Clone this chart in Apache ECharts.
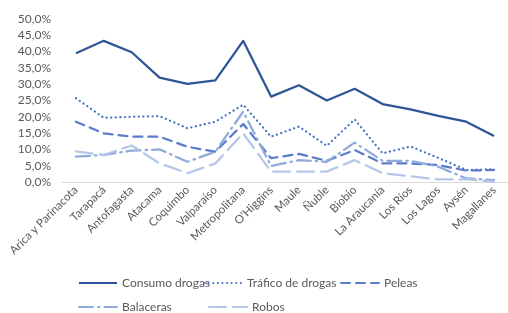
<!DOCTYPE html>
<html>
<head>
<meta charset="utf-8">
<script src="https://cdn.jsdelivr.net/npm/echarts@6/dist/echarts.min.js"></script>
<style>
  html, body { margin: 0; padding: 0; background: #fff; }
  #main { width: 508px; height: 313px; }
</style>
</head>
<body>
<div id="main"></div>
<script>
// regiones
const regions = ['Arica y Parinacota', 'Tarapacá', 'Antofagasta', 'Atacama', 'Coquimbo', 'Valparaíso',
  'Metropolitana', "O'Higgins", 'Maule', 'Ñuble', 'Biobío', 'La Araucanía', 'Los Ríos', 'Los Lagos',
  'Aysén', 'Magallanes']

// porcentajes por serie
const consumoDrogas = [39.5, 43.3, 39.8, 32.0, 30.1, 31.2, 43.3, 26.2, 29.7, 25.0, 28.6, 23.9, 22.3, 20.3, 18.5, 14.1]
const traficoDrogas = [25.7, 19.7, 20.0, 20.2, 16.5, 18.5, 23.7, 13.9, 17.0, 11.1, 19.2, 8.8, 10.9, 7.4, 3.7, 3.9]
const peleas = [18.5, 14.9, 13.9, 13.9, 10.8, 9.3, 17.8, 7.3, 8.6, 6.5, 9.8, 5.7, 5.7, 5.2, 3.5, 3.7]
const balaceras = [7.8, 8.3, 9.6, 10.0, 6.2, 9.3, 21.6, 4.9, 6.7, 6.2, 12.1, 6.5, 6.5, 4.7, 1.1, 0.6]
const robos = [9.4, 8.3, 11.2, 5.7, 2.7, 5.7, 14.9, 3.2, 3.2, 3.2, 6.7, 2.7, 1.8, 0.8, 0.8, 0.1]

const yTicks = { min: 0, max: 50, interval: 5 }

const font = 'Lato, "Open Sans", sans-serif'
const grey = '#595959'

/*cada serie con su estilo de línea*/
const seriesDefs = [
  { name: 'Consumo drogas', data: consumoDrogas, color: '#2F5597', dash: 'solid' },
  { name: 'Tráfico de drogas', data: traficoDrogas, color: '#4472C4', dash: [0.1, 4.5] },
  { name: 'Peleas', data: peleas, color: '#5B7BCB', dash: [9, 6] },
  { name: 'Balaceras', data: balaceras, color: '#8FAADC', dash: [14, 5, 1.5, 5] },
  { name: 'Robos', data: robos, color: '#B4C7E7', dash: [17, 7] }
]

// posiciones de la leyenda (dos filas)
const legendPos = [[78, 277], [203, 277], [340, 277], [78, 301], [208, 301]]

const option = {
  animation: false,
  textStyle: { fontFamily: font },
  grid: { left: 62, right: -12, top: 19, bottom: 131, containLabel: false },
  legend: seriesDefs.map((s, i) => ({
    data: [s.name],
    left: legendPos[i][0],
    top: legendPos[i][1],
    itemWidth: 38,
    itemHeight: 12,
    itemGap: 6,
    itemStyle: { opacity: 0 },
    textStyle: { color: grey, fontSize: 12, fontFamily: font },
    padding: 0
  })),
  xAxis: {
    type: 'category',
    data: regions,
    boundaryGap: true,
    axisLine: { lineStyle: { color: '#D9D9D9', width: 1 } },
    axisTick: { show: false },
    axisLabel: {
      rotate: 45,
      interval: 0,
      color: grey,
      fontSize: 11.5,
      fontFamily: font,
      margin: 6
    }
  },
  yAxis: {
    type: 'value',
    min: yTicks.min,
    max: yTicks.max,
    interval: yTicks.interval,
    axisLine: { show: false },
    axisTick: { show: false },
    splitLine: { show: false },
    axisLabel: {
      color: grey,
      fontSize: 12,
      fontFamily: font,
      margin: 11,
      formatter: v => v.toFixed(1).replace('.', ',') + '%'
    }
  },
  series: seriesDefs.map(s => ({
    name: s.name,
    type: 'line',
    data: s.data,
    symbol: 'none',
    color: s.color,
    lineStyle: {
      color: s.color,
      width: 2.25,
      type: s.dash,
      cap: s.dash === 'solid' ? 'butt' : 'round',
      join: 'round'
    }
  }))
}

const myChart = echarts.init(document.getElementById('main'), null, { renderer: 'canvas' })
myChart.setOption(option)
</script>
</body>
</html>
